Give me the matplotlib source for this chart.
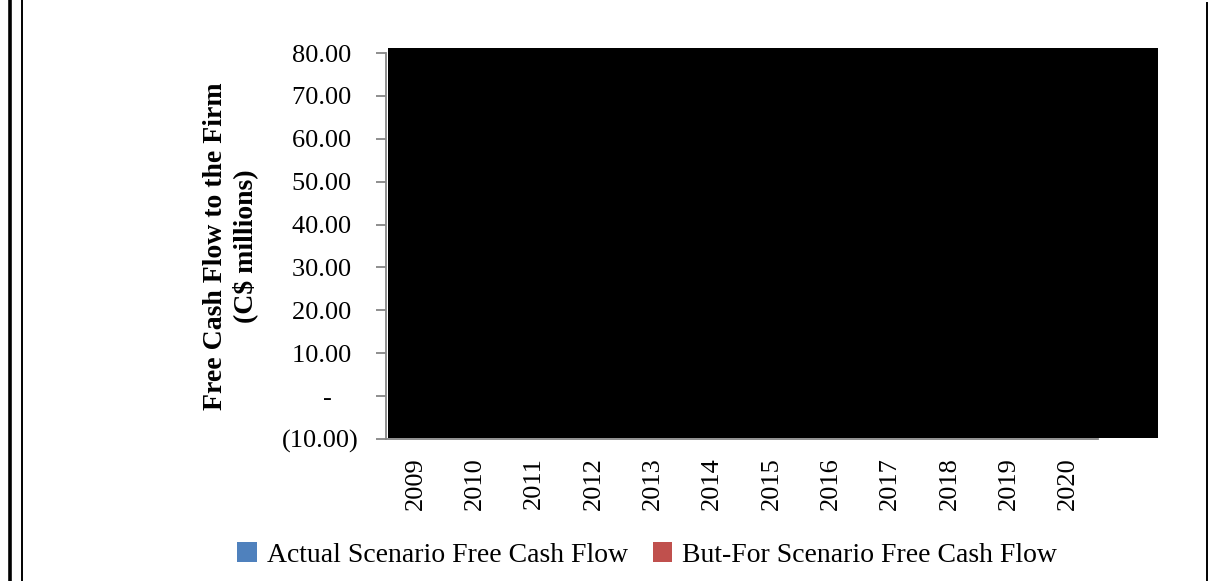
import numpy as np
import matplotlib
matplotlib.use("Agg")
import matplotlib.pyplot as plt
from matplotlib.patches import Rectangle, Patch
from matplotlib.lines import Line2D

# ---- data ----
years = ["2009", "2010", "2011", "2012", "2013", "2014",
         "2015", "2016", "2017", "2018", "2019", "2020"]
# bar values are hidden behind the black plot fill in the reference, so unreadable
actual_fcf = [np.nan] * len(years)
butfor_fcf = [np.nan] * len(years)
series_names = ["Actual Scenario Free Cash Flow", "But-For Scenario Free Cash Flow"]
series_colors = ["#4F81BD", "#C0504D"]
ytick_values = [-10, 0, 10, 20, 30, 40, 50, 60, 70, 80]
ytick_labels = ["(10.00)", "-    ", "10.00 ", "20.00 ", "30.00 ", "40.00 ",
                "50.00 ", "60.00 ", "70.00 ", "80.00 "]
ylabel = "Free Cash Flow to the Firm\n(C$ millions)"

plt.rcParams['font.family'] = ['Liberation Serif', 'DejaVu Serif']
FS = 19
FS_TXT = 20
W, H = 1215, 581
fig = plt.figure(figsize=(W / 100, H / 100), dpi=100)

L, R, T, B = 386, 1098, 53, 439
ax = fig.add_axes([L / W, (H - B) / H, (R - L) / W, (B - T) / H])

x = np.arange(len(years))
bw = 0.35
ax.bar(x - bw / 2, actual_fcf, bw, color=series_colors[0])
ax.bar(x + bw / 2, butfor_fcf, bw, color=series_colors[1])

ax.set_xlim(-0.5, len(years) - 0.5)
ax.set_ylim(-10, 80)
gray = "#868686"
for s in ["top", "right"]:
    ax.spines[s].set_visible(False)
for s in ["left", "bottom"]:
    ax.spines[s].set_color(gray)
    ax.spines[s].set_linewidth(1.3)
ax.set_yticks(ytick_values)
ax.set_yticklabels(ytick_labels, fontsize=FS)
ax.tick_params(axis='y', direction='out', length=7, width=1.3, color=gray, pad=13)
ax.set_xticks(x)
ax.set_xticklabels(years, rotation=90, fontsize=FS)
ax.tick_params(axis='x', length=0, pad=13)
ax.set_ylabel(ylabel, fontsize=FS_TXT, fontweight='bold', labelpad=17, linespacing=1.2)

# black fill covering the plot area (as in the reference)
fig.add_artist(Rectangle((388 / W, (H - 438) / H), (1158 - 388) / W, (438 - 48) / H,
                         transform=fig.transFigure, facecolor="black",
                         edgecolor="none", zorder=5))

# page border lines
fig.add_artist(Line2D([9.5 / W, 9.5 / W], [0, 1], transform=fig.transFigure,
                      color="black", lw=2.6))
fig.add_artist(Line2D([21.5 / W, 21.5 / W], [0, 1], transform=fig.transFigure,
                      color="black", lw=1.4))
fig.add_artist(Line2D([1206.5 / W, 1206.5 / W], [0, 1 - 3 / H], transform=fig.transFigure,
                      color="black", lw=1.4))

handles = [Patch(facecolor=c, edgecolor='none') for c in series_colors]
fig.legend(handles, series_names, loc='center', bbox_to_anchor=(647 / W, (H - 555) / H),
           ncol=2, frameon=False, fontsize=FS_TXT, handlelength=0.7, handleheight=0.7,
           handletextpad=0.35, columnspacing=0.9)

fig.savefig("out.png", dpi=100, facecolor="white")
